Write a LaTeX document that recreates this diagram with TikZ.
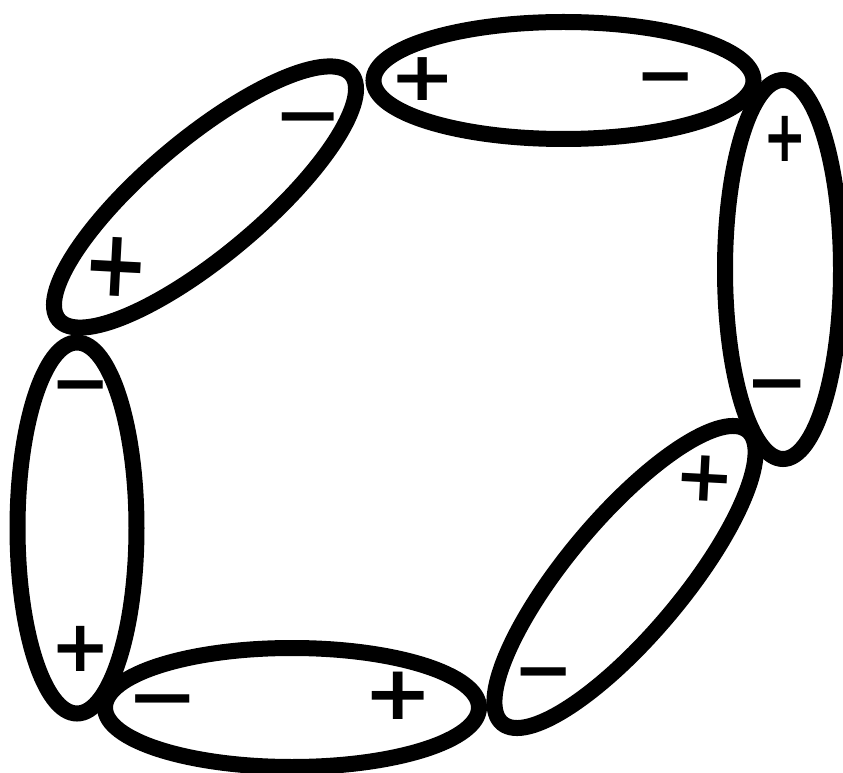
\documentclass[tikz,border=0pt]{standalone}
\usepackage{fontspec}
\newfontfamily\chargefont{DejaVu Sans}
\usetikzlibrary{shapes.geometric}
\tikzset{
	dipolenode/.style={
			ellipse,
			draw=black,
			line width=16pt,
			fill=none,
			inner sep=0pt,
			minimum width=380pt,
			minimum height=117pt
		},
	chargenode/.style={
			font=\chargefont\bfseries\fontsize{72}{72}\selectfont,
			text=black,
			inner sep=0pt,
			text height=44pt,
			text depth=0pt
		}
}

\begin{document}
\begin{tikzpicture}[x=1pt, y=1pt]
\useasboundingbox (0,0) rectangle (843,772);

% the six dipoles
\node[dipolenode] (d1) at (563.5,691.5) {};
\node[dipolenode, rotate=40, minimum width=382pt, minimum height=116pt] (d2) at (205,575) {};
\node[dipolenode, rotate=90, minimum width=371pt, minimum height=119pt] (d3) at (77,244) {};
\node[dipolenode, minimum width=374pt, minimum height=119pt] (d4) at (292,64.5) {};
\node[dipolenode, rotate=50, minimum width=382pt, minimum height=116pt] (d5) at (625,195) {};
\node[dipolenode, rotate=90, minimum width=379pt, minimum height=116pt] (d6) at (783,502.5) {};

% charges
\node[chargenode] (p1) at (423,693) {\scalebox{1.1}[0.95]{+}};
\node[chargenode] (m1) at (666,694) {−};
\node[chargenode] (m2) at (308,654) {\scalebox{1.15}[1]{−}};
\node[chargenode, rotate=-3] (p2) at (116,498) {\scalebox{1.1}[1.3]{+}};
\node[chargenode] (m3) at (81,386) {−};
\node[chargenode] (p3) at (81,123) {+};
\node[chargenode] (m4) at (163,73) {\scalebox{1.2}[1]{−}};
\node[chargenode] (p4) at (398,75) {\scalebox{1.15}[1.05]{+}};
\node[chargenode] (m5) at (544,100) {−};
\node[chargenode, rotate=-3] (p5) at (705,293) {+};
\node[chargenode] (p6) at (785,632) {\scalebox{0.72}[1]{+}};
\node[chargenode] (m6) at (777,387) {\scalebox{1.05}[1]{−}};

\end{tikzpicture}
\end{document}
